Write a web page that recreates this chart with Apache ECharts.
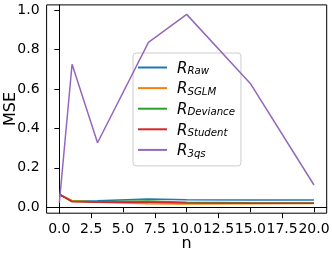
<!DOCTYPE html>
<html><head><meta charset="utf-8">
<script src="https://cdn.jsdelivr.net/npm/echarts@6/dist/echarts.min.js"></script>
<style>html,body{margin:0;padding:0;background:#fff}#c{width:332px;height:254px}</style>
</head><body><div id="c"></div>
<script>
const nValues = [0, 1, 3, 7, 10, 15, 20];
const rawMSE = [0.065, 0.032, 0.033, 0.042, 0.038, 0.037, 0.037];
const sglmMSE = [0.065, 0.035, 0.026, 0.018, 0.017, 0.018, 0.019];
const devianceMSE = [0.065, 0.030, 0.028, 0.032, 0.025, 0.023, 0.022];
const studentMSE = [0.066, 0.028, 0.025, 0.026, 0.022, 0.021, 0.021];
const qsMSE = [0.023, 0.725, 0.327, 0.836, 0.978, 0.628, 0.113];
const xTicksMajor = [0, 5, 10, 15, 20];
const xTicksHalf = [2.5, 7.5, 12.5, 17.5];
const yTicks = [0, 0.2, 0.4, 0.6, 0.8, 1.0];
const seriesNames = ['Raw', 'SGLM', 'Deviance', 'Student', '3qs'];
const seriesData = [rawMSE, sglmMSE, devianceMSE, studentMSE, qsMSE];
const colors = ['#1f77b4', '#ff7f0e', '#2ca02c', '#d62728', '#9467bd'];

const font = 'DejaVu Sans';
function xAxisFor(ticks, withName) {
  return {
    type: 'value', min: -1, max: 21, position: 'bottom', gridIndex: 0,
    name: withName ? 'n' : '', nameLocation: 'middle', nameGap: 23, nameMoveOverlap: false,
    nameTextStyle: {fontFamily: font, fontSize: 16, color: '#000'},
    axisLine: {show: withName, lineStyle: {color: '#000', width: 1}},
    axisTick: {show: true, inside: false, length: 5, customValues: ticks, lineStyle: {color: '#000'}},
    axisLabel: {customValues: ticks, interval: 0, fontFamily: font, fontSize: 14, color: '#000', margin: 9.5,
      formatter: v => v.toFixed(1), showMinLabel: true, showMaxLabel: true, hideOverlap: false},
    splitLine: {show: false}
  };
}
const chart = echarts.init(document.getElementById('c'), null, {renderer: 'canvas'});
chart.setOption({
  animation: false,
  color: colors,
  grid: {left: 46.6, right: 5.3, top: 4.9, bottom: 40.8, containLabel: false, outerBoundsMode: 'none',
    show: true, borderColor: '#000', borderWidth: 1, backgroundColor: 'transparent'},
  legend: {
    orient: 'vertical',
    left: 133, top: 53,
    padding: [7.5, 6, 7, 5],
    itemGap: 4.6,
    itemWidth: 29, itemHeight: 2,
    icon: 'rect',
    backgroundColor: 'rgba(255,255,255,0.8)',
    borderColor: '#cccccc', borderWidth: 1, borderRadius: 3,
    data: seriesNames,
    formatter: function (name) { return '{r|R}{s|' + name + '}'; },
    textStyle: {
      fontFamily: font, color: '#000', padding: [0, 0, 0, 5],
      rich: {
        r: {fontFamily: font, fontStyle: 'italic', fontSize: 15, lineHeight: 18, verticalAlign: 'bottom', color: '#000'},
        s: {fontFamily: font, fontStyle: 'italic', fontSize: 10.2, lineHeight: 18, verticalAlign: 'bottom', padding: [6, 0, 0, 0], color: '#000'}
      }
    }
  },
  xAxis: [xAxisFor(xTicksMajor, true), xAxisFor(xTicksHalf, false)],
  yAxis: {
    type: 'value', min: -0.03, max: 1.026,
    name: 'MSE', nameLocation: 'middle', nameGap: 28, nameMoveOverlap: false,
    nameTextStyle: {fontFamily: font, fontSize: 16, color: '#000'},
    axisLine: {show: true, lineStyle: {color: '#000', width: 1}},
    axisTick: {show: true, inside: false, length: 5, customValues: yTicks, lineStyle: {color: '#000'}},
    axisLabel: {customValues: yTicks, interval: 0, fontFamily: font, fontSize: 14, color: '#000', margin: 7,
      formatter: v => v.toFixed(1), hideOverlap: false},
    splitLine: {show: false}
  },
  series: seriesNames.map((nm, i) => ({
    name: nm, type: 'line', showSymbol: false, symbol: 'none', xAxisIndex: 0,
    data: nValues.map((x, j) => [x, seriesData[i][j]]),
    lineStyle: {width: 1.5, color: colors[i]},
    z: 2 + i
  }))
});
</script></body></html>
